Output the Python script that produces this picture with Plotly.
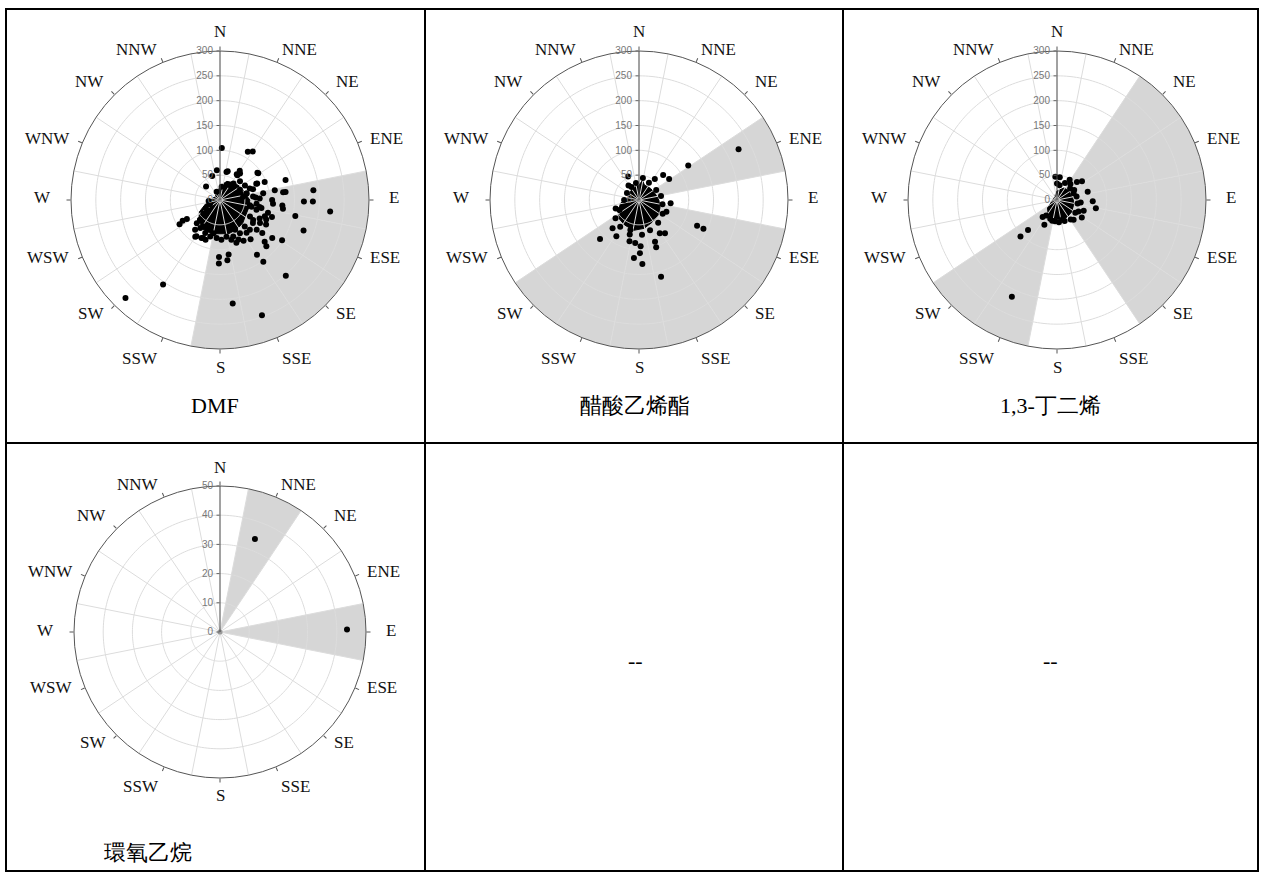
import plotly.graph_objects as go
import numpy as np

W, H = 1261, 873

# ---------------- data ----------------
DIRS = ["N", "NNE", "NE", "ENE", "E", "ESE", "SE", "SSE",
        "S", "SSW", "SW", "WSW", "W", "WNW", "NW", "NNW"]
DIR_DEG = [0, 22.5, 45, 67.5, 90, 112.5, 135, 157.5,
           180, 202.5, 225, 247.5, 270, 292.5, 315, 337.5]

titles = ["DMF", "醋酸乙烯酯", "1,3-丁二烯", "環氧乙烷"]
r_max = [300, 300, 300, 50]
r_ticks = [[0, 50, 100, 150, 200, 250, 300]] * 3 + [[0, 10, 20, 30, 40, 50]]

# shaded (source) sectors, centre directions
shade_dmf = [90, 112.5, 135, 157.5, 180]
shade_va = [67.5, 112.5, 135, 157.5, 180, 202.5, 225]
shade_bd = [45, 67.5, 90, 112.5, 135, 202.5, 225]
shade_eo = [22.5, 90]

# dense core envelopes (theta deg, r)
dmf_core_theta = [0, 20, 40, 60, 75, 90, 105, 120, 135, 150, 165, 180, 195, 210, 225, 240, 255, 270, 290, 310, 330, 350]
dmf_core_r = [28, 40, 45, 50, 52, 60, 60, 60, 65, 68, 70, 68, 70, 68, 60, 48, 30, 18, 14, 12, 14, 20]
va_core_theta = [0, 10, 20, 45, 70, 90, 110, 130, 150, 170, 190, 210, 225, 240, 260, 280, 300, 320, 340]
va_core_r = [30, 40, 32, 33, 35, 40, 45, 50, 52, 58, 62, 58, 55, 48, 38, 22, 22, 25, 27]
bd_core_theta = [0, 30, 50, 70, 90, 110, 130, 150, 170, 190, 210, 230, 250, 280, 320, 345]
bd_core_r = [18, 28, 30, 30, 33, 35, 38, 40, 40, 38, 35, 25, 12, 8, 8, 12]

# scatter points (theta deg, value)
dmf_theta = [2, 30, 34, 354, 342, 314, 13, 34, 33, 54, 73, 80, 83, 83, 84, 91, 91, 96, 102, 110,
             90, 94, 95, 98, 105, 113, 129, 126, 123, 133, 135, 146, 145, 139, 173, 160, 181, 171, 181, 173,
             214, 224, 239, 241, 240, 214, 206, 200, 225, 211, 191, 160, 155, 141, 121, 120, 66, 81, 100, 102,
             76, 55, 37, 35, 15, 66, 68, 69, 76, 84, 88, 100, 105, 101, 110, 115, 119, 125, 137, 135,
             153, 149, 170, 164, 159, 185, 178, 195, 204, 213, 204, 220, 215, 225, 225, 231, 233, 247, 265, 338,
             7, 34, 39, 63, 82, 108, 118, 128, 142, 150, 96, 86, 72, 60, 47]
dmf_r = [105, 112, 118, 60, 51, 39, 58, 71, 62, 93, 138, 112, 128, 133, 189, 169, 187, 223, 155, 179,
         105, 107, 126, 128, 100, 101, 95, 130, 149, 123, 132, 133, 152, 202, 210, 247, 115, 111, 128, 122,
         205, 274, 95, 86, 77, 89, 85, 85, 57, 62, 68, 78, 88, 85, 78, 93, 80, 88, 81, 65,
         55, 94, 67, 61, 60, 82, 97, 64, 55, 67, 80, 61, 76, 85, 96, 88, 69, 81, 73, 85,
         67, 78, 75, 83, 92, 77, 80, 76, 73, 87, 84, 78, 69, 57, 66, 43, 33, 22, 23, 18,
         27, 36, 43, 45, 47, 110, 105, 108, 100, 95, 74, 72, 70, 58, 55]

va_theta = [63, 55, 44, 55, 37, 96, 114, 114, 164, 177, 185, 179, 178, 193, 185, 160, 159, 148, 142, 225,
            223, 212, 335, 324, 243, 196, 113, 10, 30, 60, 80, 100, 120, 140, 160, 175, 195, 215, 232, 250,
            270, 300, 330, 350]
va_r = [225, 121, 70, 74, 53, 64, 128, 142, 161, 129, 117, 107, 93, 85, 87, 101, 90, 79, 85, 111,
        78, 86, 52, 36, 44, 63, 60, 45, 40, 40, 45, 48, 55, 60, 65, 70, 72, 66, 60, 50,
        30, 28, 30, 35]

bd_theta = [205, 225, 224, 207, 193, 356, 7, 0, 32, 48, 53, 75, 92, 102, 112, 96, 125, 140, 163, 118,
            68, 49, 10, 25, 40, 60, 80, 100, 125, 145, 160, 175, 185, 200, 215, 220]
bd_r = [215, 104, 84, 56, 43, 47, 46, 33, 48, 54, 63, 64, 72, 80, 58, 48, 61, 52, 40, 49,
        36, 35, 30, 38, 42, 40, 40, 42, 45, 48, 45, 45, 43, 40, 38, 45]

eo_theta = [20.6, 88.9]
eo_r = [34, 43.5]

# chart centres / radii in pixels (layout)
centres = [(220, 200, 149), (639, 200, 149), (1057, 200, 149), (220, 632, 146)]
# compass label placement for N..S (edge offset from centre, vertical centre offset), mirrored for west side
LBL_EDGE = [0, 60, 114, 148, 167, 148, 114, 60, 0]
LBL_DY = [-168, -151, -119, -62, -2, 57, 113, 158, 167]

SHADE = "#d6d6d6"
GRID = "#dcdcdc"

fig = go.Figure()

cores = [(dmf_core_theta, dmf_core_r), (va_core_theta, va_core_r), (bd_core_theta, bd_core_r), None]
points = [(dmf_theta, dmf_r), (va_theta, va_r), (bd_theta, bd_r), (eo_theta, eo_r)]
shades = [shade_dmf, shade_va, shade_bd, shade_eo]

spoke_angles = [d + 11.25 for d in DIR_DEG]


def X(p):
    return p / W


def Y(p):
    return 1 - p / H


annotations = []

for i in range(4):
    pname = "polar" if i == 0 else f"polar{i+1}"
    rm = r_max[i]
    # shaded sectors
    fig.add_trace(go.Barpolar(r=[rm] * len(shades[i]), theta=shades[i], width=[22.5] * len(shades[i]),
                              marker=dict(color=SHADE, line=dict(width=0)), subplot=pname,
                              showlegend=False, hoverinfo="skip"))
    # core blob
    if cores[i] is not None:
        ct, cr = cores[i]
        fig.add_trace(go.Scatterpolar(theta=ct + [ct[0]], r=cr + [cr[0]], mode="lines", fill="toself",
                                      fillcolor="black", line=dict(color="black", width=1),
                                      subplot=pname, showlegend=False, hoverinfo="skip"))
    # circle grid + offset spokes
    gth, gr = [], []
    circ = list(np.linspace(0, 360, 241))
    for t in r_ticks[i][1:-1]:
        gth += circ + [None]
        gr += [t] * len(circ) + [None]
    for a in spoke_angles:
        gth += [a, a, None]
        gr += [0, rm, None]
    fig.add_trace(go.Scatterpolar(theta=gth, r=gr, mode="lines", line=dict(color=GRID, width=1),
                                  subplot=pname, showlegend=False, hoverinfo="skip", connectgaps=False))
    # points
    pt, pr = points[i]
    fig.add_trace(go.Scatterpolar(theta=pt, r=pr, mode="markers",
                                  marker=dict(color="black", size=6),
                                  subplot=pname, showlegend=False))
    # centre marker
    fig.add_trace(go.Scatterpolar(theta=[0], r=[0], mode="markers",
                                  marker=dict(color="#9a9a9a", size=5),
                                  subplot=pname, showlegend=False, hoverinfo="skip"))

    cx, cy, R = centres[i]
    sc = R / 149.0
    fig.update_layout(**{pname: dict(
        domain=dict(x=[(cx - R) / W, (cx + R) / W], y=[1 - (cy + R) / H, 1 - (cy - R) / H]),
        bgcolor="white",
        angularaxis=dict(rotation=90, direction="clockwise", tickmode="array",
                         tickvals=DIR_DEG, ticktext=DIRS, showgrid=False, showticklabels=False,
                         ticks="outside", ticklen=4, tickcolor="#555",
                         linecolor="#555", linewidth=1, showline=True),
        radialaxis=dict(range=[0, rm], tickmode="array", tickvals=r_ticks[i], showgrid=False,
                        angle=90, side="counterclockwise", showline=True, linecolor="#444",
                        linewidth=1, ticks="outside", ticklen=3, tickcolor="#666", tickangle=90,
                        tickfont=dict(family="Arial", size=10, color="#777")),
        barmode="overlay",
    )})
    # compass labels
    for k, name in enumerate(DIRS):
        j = k if k <= 8 else 16 - k
        edge = LBL_EDGE[j] * sc
        dy = LBL_DY[j] * sc
        if j == 0 or j == 8:
            xa, lx = "center", cx
        elif k < 8:
            xa, lx = "left", cx + edge
        else:
            xa, lx = "right", cx - edge
        annotations.append(dict(text=name, x=X(lx), y=Y(cy + dy), xref="paper", yref="paper",
                                showarrow=False, xanchor=xa, yanchor="middle",
                                font=dict(family="Liberation Serif", size=17, color="#111")))

# table lines
shapes = []
lw = 2
for x in [6, 425, 843, 1258]:
    shapes.append(dict(type="line", xref="paper", yref="paper", x0=X(x), x1=X(x), y0=Y(9), y1=Y(871),
                       line=dict(color="black", width=lw)))
for y in [9, 443, 871]:
    shapes.append(dict(type="line", xref="paper", yref="paper", x0=X(5), x1=X(1259), y0=Y(y), y1=Y(y),
                       line=dict(color="black", width=lw)))

label_pos = [(215, 405), (635, 405), (1050, 405), (148, 852)]
for t, (x, y) in zip(titles, label_pos):
    annotations.append(dict(text=t, x=X(x), y=Y(y), xref="paper", yref="paper", showarrow=False,
                            xanchor="center", yanchor="middle",
                            font=dict(family="Liberation Serif", size=22, color="black")))
for x in [635, 1050]:
    annotations.append(dict(text="--", x=X(x), y=Y(660), xref="paper", yref="paper", showarrow=False,
                            xanchor="center", yanchor="middle",
                            font=dict(family="Liberation Serif", size=22, color="black")))

fig.update_layout(width=W, height=H, margin=dict(l=0, r=0, t=0, b=0),
                  paper_bgcolor="white", plot_bgcolor="white",
                  shapes=shapes, annotations=annotations, showlegend=False)

fig.write_html("out.html")
